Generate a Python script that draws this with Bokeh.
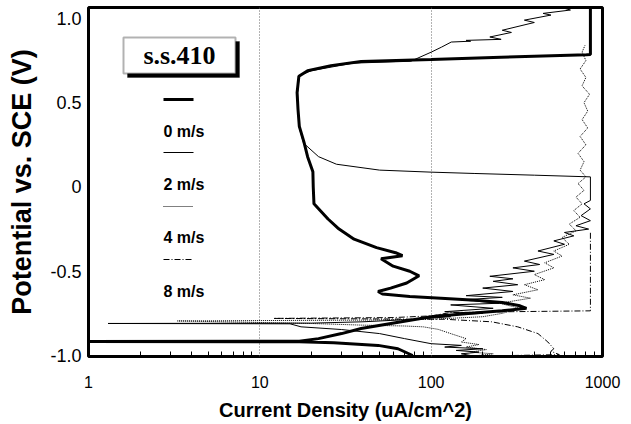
from bokeh.plotting import figure
from bokeh.models import Range1d, FixedTicker, Label, BoxAnnotation, Arrow
from bokeh.embed import file_html
from bokeh.resources import INLINE

# ---------------- data: (current density uA/cm^2, potential V vs SCE) ----------------
series_labels = ["0 m/s", "2 m/s", "4 m/s", "8 m/s"]

curve_0ms = [
    (78, -1.0), (64, -0.96), (49, -0.94), (27, -0.925), (17, -0.918), (1.0, -0.917),
    (17, -0.915), (22, -0.90), (30, -0.87), (39, -0.84), (67, -0.80), (100, -0.77),
    (171, -0.75), (260, -0.735), (360, -0.72), (330, -0.705), (260, -0.685), (171, -0.67),
    (114, -0.66), (75, -0.65), (52, -0.635), (49, -0.62), (58, -0.60), (72, -0.57),
    (85, -0.527), (75, -0.50), (60, -0.47), (51, -0.426), (68, -0.408), (62, -0.39),
    (48, -0.36), (35.5, -0.31), (29, -0.25), (25, -0.19), (20.7, -0.10), (20.5, 0.0),
    (20.4, 0.09), (19, 0.18), (18.1, 0.266), (17, 0.36), (16.7, 0.462), (16.5, 0.56),
    (16.9, 0.657), (19, 0.69), (26, 0.72), (39, 0.745), (100, 0.757), (256, 0.77),
    (806, 0.785), (850, 0.786), (850, 1.07),
]

curve_2ms = [
    (170, -1.0), (150, -0.99), (190, -0.98), (140, -0.97), (200, -0.96), (120, -0.95),
    (150, -0.94), (100, -0.93), (70, -0.90), (50, -0.87), (30, -0.846), (17.4, -0.83),
    (15, -0.812), (1.3, -0.81), (20, -0.808), (40, -0.80), (80, -0.785), (130, -0.77),
    (110, -0.76), (200, -0.75), (120, -0.74), (230, -0.72), (130, -0.70), (250, -0.69),
    (150, -0.67), (260, -0.655), (160, -0.645), (300, -0.62), (200, -0.60), (320, -0.58),
    (230, -0.56), (300, -0.545), (220, -0.53), (400, -0.50), (300, -0.48), (430, -0.46),
    (350, -0.44), (520, -0.40), (420, -0.38), (600, -0.34), (520, -0.32), (680, -0.29),
    (600, -0.27), (830, -0.25), (700, -0.23), (850, -0.20), (750, -0.17), (850, -0.13),
    (780, -0.10), (850, -0.08), (850, 0.06), (400, 0.07), (180, 0.08), (100, 0.088),
    (50, 0.10), (28, 0.135), (22, 0.18), (18, 0.26), (17, 0.35), (16.7, 0.46),
    (16.6, 0.56), (17, 0.66), (20, 0.69), (35, 0.735), (76, 0.746), (100, 0.80),
    (115, 0.83), (131, 0.86), (170, 0.865), (160, 0.87), (256, 0.876), (220, 0.89),
    (294, 0.917), (260, 0.93), (400, 0.976), (350, 0.99), (500, 1.02), (450, 1.03),
    (650, 1.05), (600, 1.06), (800, 1.07),
]

curve_4ms = [
    (190, -1.0), (230, -0.99), (170, -0.98), (210, -0.965), (160, -0.95), (190, -0.935),
    (150, -0.92), (160, -0.90), (130, -0.87), (110, -0.845), (90, -0.83), (70, -0.825),
    (40, -0.82), (20, -0.81), (3.3, -0.795), (40, -0.79), (100, -0.785), (200, -0.77),
    (260, -0.75), (330, -0.72), (250, -0.69), (380, -0.66), (300, -0.64), (420, -0.61),
    (350, -0.58), (460, -0.55), (400, -0.52), (520, -0.48), (460, -0.45), (580, -0.41),
    (520, -0.38), (640, -0.34), (580, -0.30), (700, -0.26), (640, -0.22), (740, -0.18),
    (680, -0.14), (760, -0.10), (700, -0.06), (780, -0.02), (720, 0.02), (800, 0.06),
    (740, 0.10), (780, 0.15), (720, 0.20), (800, 0.25), (740, 0.30), (820, 0.35),
    (760, 0.40), (820, 0.45), (780, 0.50), (840, 0.55), (760, 0.60), (800, 0.65),
    (740, 0.70), (800, 0.75), (760, 0.80), (790, 0.84),
]

curve_8ms = [
    (300, -1.0), (560, -0.995), (500, -0.975), (520, -0.96), (480, -0.92), (420, -0.87),
    (320, -0.83), (225, -0.80), (120, -0.785), (12, -0.78), (60, -0.775), (100, -0.765),
    (130, -0.745), (300, -0.74), (850, -0.735), (850, -0.26),
]

x_ticks = [1, 10, 100, 1000]
x_tick_labels = ["1", "10", "100", "1000"]
x_minor = [2, 3, 4, 5, 6, 7, 8, 9, 20, 30, 40, 50, 60, 70, 80, 90,
           200, 300, 400, 500, 600, 700, 800, 900]
y_ticks = [-1.0, -0.5, 0.0, 0.5, 1.0]
y_tick_labels = ["-1.0", "-0.5", "0", "0.5", "1.0"]
grid_at = [10, 100]
title_text = "s.s.410"

# ---------------- figure ----------------
p = figure(width=622, height=424, x_axis_type="log",
           x_range=Range1d(1, 1000), y_range=Range1d(-1.006, 1.065),
           output_backend="svg", toolbar_location=None,
           min_border_left=88, min_border_right=20, min_border_top=7, min_border_bottom=68)
p.background_fill_color = "white"
p.border_fill_color = "white"
p.outline_line_color = "black"
p.outline_line_width = 3

FONT = "Liberation Sans"

xa = p.xaxis[0]
xa.ticker = FixedTicker(ticks=x_ticks, minor_ticks=x_minor)
xa.major_label_overrides = dict(zip(x_ticks, x_tick_labels))
xa.axis_label = "Current Density (uA/cm^2)"
ya = p.yaxis[0]
ya.ticker = FixedTicker(ticks=y_ticks)
ya.major_label_overrides = dict(zip(y_ticks, y_tick_labels))
ya.axis_label = "Potential vs. SCE (V)"

for ax in (xa, ya):
    ax.axis_line_color = None
    ax.major_tick_out = 0
    ax.major_tick_in = 0
    ax.minor_tick_out = 0
    ax.minor_tick_in = 5
    ax.minor_tick_line_color = "black"
    ax.major_label_text_font = FONT
    ax.major_label_text_color = "black"
    ax.axis_label_text_font = FONT
    ax.axis_label_text_font_style = "bold"
    ax.axis_label_text_color = "black"
xa.major_label_text_font_size = "16px"
xa.major_label_standoff = 19
xa.axis_label_standoff = 8
xa.axis_label_text_font_size = "20px"
ya.major_label_text_font_size = "18px"
ya.major_label_standoff = 7
ya.axis_label_standoff = 10
ya.axis_label_text_font_size = "27px"
ya.minor_tick_in = 0

p.xgrid.ticker = FixedTicker(ticks=grid_at)
p.xgrid.grid_line_color = "#666666"
p.xgrid.grid_line_dash = "1 2"
p.xgrid.grid_line_width = 1
p.ygrid.grid_line_color = None

def xs(c):
    return [a for a, b in c]

def ys(c):
    return [b for a, b in c]

p.line(xs(curve_8ms), ys(curve_8ms), line_color="black", line_width=1, line_dash="6 2 1 2")
p.line(xs(curve_4ms), ys(curve_4ms), line_color="black", line_width=1, line_dash="1 1")
p.line(xs(curve_2ms), ys(curve_2ms), line_color="black", line_width=1)
p.line(xs(curve_0ms), ys(curve_0ms), line_color="black", line_width=3)

# ---------------- legend (screen units inside frame, y from frame bottom) ----------------
FH = 349       # frame height in px
FRAME_TOP = 7  # frame top on page
def sy(page_y):
    return FH - (page_y - FRAME_TOP)

shadow = BoxAnnotation(left=39, right=151, top=sy(41), bottom=sy(77),
                       left_units="screen", right_units="screen",
                       top_units="screen", bottom_units="screen",
                       fill_color="black", fill_alpha=1, line_color="black")
box = BoxAnnotation(left=35, right=147, top=sy(37), bottom=sy(73),
                    left_units="screen", right_units="screen",
                    top_units="screen", bottom_units="screen",
                    fill_color="white", fill_alpha=1, line_color="black", line_width=2)
p.add_layout(shadow)
p.add_layout(box)
p.add_layout(Label(x=91, y=sy(55), x_units="screen", y_units="screen", text=title_text,
                   text_font="Liberation Serif", text_font_style="bold", text_font_size="26px",
                   text_align="center", text_baseline="middle", text_color="black"))

leg_line_y = [99, 152, 206, 259]
leg_text_y = [131, 184, 237, 291]
leg_styles = [dict(line_width=3), dict(line_width=1), dict(line_width=1, line_dash="1 1"),
              dict(line_width=1, line_dash="6 2 1 2")]
for lbl, ly, ty, st in zip(series_labels, leg_line_y, leg_text_y, leg_styles):
    p.add_layout(Arrow(x_start=75, y_start=sy(ly), x_end=105, y_end=sy(ly),
                       start_units="screen", end_units="screen", start=None, end=None,
                       line_color="black", **st))
    p.add_layout(Label(x=75, y=sy(ty), x_units="screen", y_units="screen", text=lbl,
                       text_font=FONT, text_font_style="bold", text_font_size="16px",
                       text_align="left", text_baseline="middle", text_color="black"))

open("out.html", "w").write(file_html(p, INLINE))
